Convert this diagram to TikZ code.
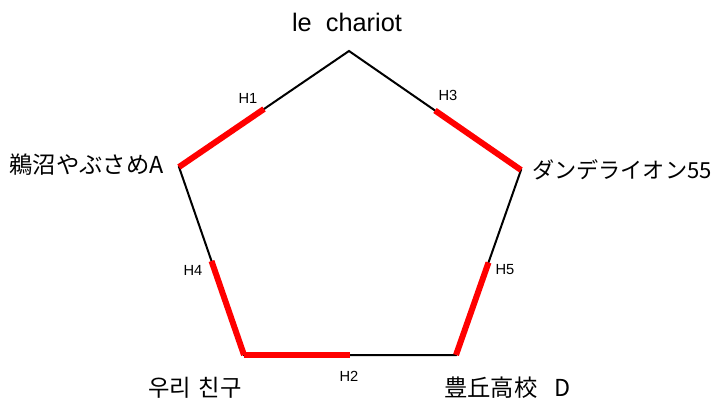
\documentclass[tikz,border=0pt]{standalone}
\usepackage{fontspec}
\setmainfont{Liberation Sans}
\newfontfamily\jpfont{Noto Sans CJK JP}
\newfontfamily\krfont{Noto Sans CJK KR}
\usetikzlibrary{calc}
\tikzset{
  edge/.style={line width=1.5pt},
  hot/.style={line width=4.5pt, red},
  teamname/.style={font=\jpfont\fontsize{17.5}{19}\selectfont, inner sep=0pt},
  tag/.style={font=\fontsize{11}{13}\selectfont, inner sep=0pt}
}
\begin{document}
\begin{tikzpicture}[x=0.75pt,y=-0.75pt]
\useasboundingbox (0,0) rectangle (718,399);
% corners
\coordinate (T) at (349,51);
\coordinate (R) at (521,170);
\coordinate (BR) at (456,355);
\coordinate (BL) at (244,355);
\coordinate (L) at (179,167);
\draw[edge] (T) -- (R) -- (BR) -- (BL) -- (L) -- cycle;
% half edges
\coordinate (mLT) at ($(L)!0.5!(T)$);
\coordinate (mTR) at ($(T)!0.5!(R)$);
\coordinate (mRB) at ($(R)!0.5!(BR)$);
\coordinate (mBB) at ($(BL)!0.5!(BR)$);
\coordinate (mLB) at ($(L)!0.5!(BL)$);
\draw[hot] (L) -- (mLT);
\draw[hot] (mTR) -- (R);
\draw[hot] (mRB) -- (BR);
\draw[hot] (BL) -- (mBB);
\draw[hot] (mLB) -- (BL);
% names
\node[teamname, font=\fontsize{19}{21}\selectfont] (top) at (347,22) {le\ \ chariot};
\node[teamname, anchor=east] (left) at (164,165) {鵜沼やぶさめA};
\node[teamname, anchor=west, font=\jpfont\fontsize{16.6}{18}\selectfont] (right) at (532,170) {ダンデライオン55};
\node[teamname, anchor=west] (botr) at (444,388) {豊丘高校\hspace{13pt}D};
\node[teamname, font=\krfont\fontsize{17.5}{19}\selectfont] (botl) at (195,388) {우리\hspace{6pt}친구};
% edge tags
\node[tag] (h1) at (248,98) {H1};
\node[tag] (h3) at (448,95) {H3};
\node[tag] (h4) at (193,270) {H4};
\node[tag] (h5) at (505,270) {H5};
\node[tag] (h2) at (349,376) {H2};
\end{tikzpicture}
\end{document}
